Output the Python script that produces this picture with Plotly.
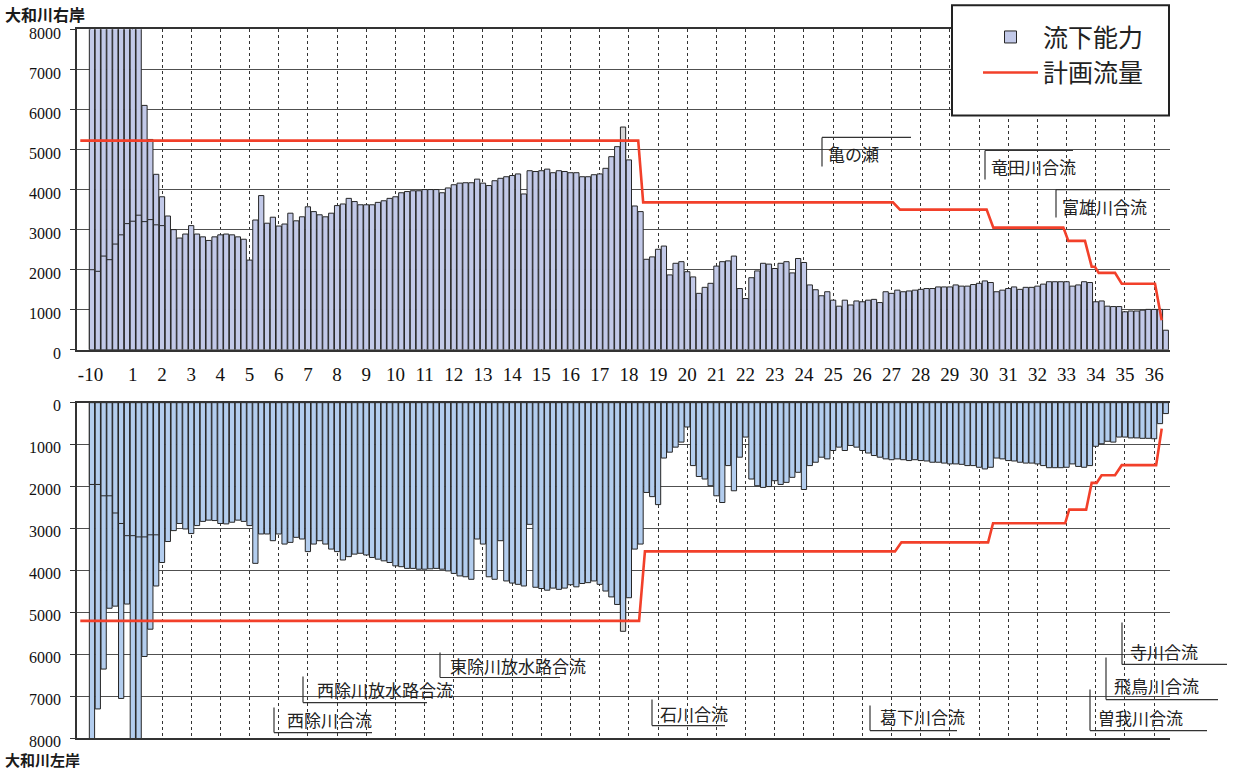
import plotly.graph_objects as go

W, H = 1233, 778

# ---------------- data ----------------
# survey stations (km from river mouth), every 0.2 km
stations_km = [round(-0.4 + 0.2 * i, 1) for i in range(185)]

# x tick labels as printed
tick_text = ["-10"] + [str(n) for n in range(1, 37)]
tick_km = [-0.45] + list(range(1, 37))

# 流下能力 (m3/s) right bank ; 9000 = off-scale (> 8000)
right_cap = [
    9000, 9000, 9000, 9000, 9000, 9000, 9000, 9000, 9000,
    6100, 5250, 4380, 3820, 3340, 3000, 2790, 2890, 3100, 2890,
    2820, 2730, 2820, 2870, 2890, 2870, 2820, 2760, 2240, 3240,
    3850, 3160, 3310, 3090, 3140, 3410, 3220, 3320, 3570, 3450,
    3370, 3320, 3410, 3600, 3640, 3780, 3700, 3620, 3620, 3620,
    3680, 3720, 3780, 3820, 3920, 3950, 3970, 3970, 4000, 4000,
    4000, 3920, 4040, 4120, 4160, 4170, 4170, 4260, 4160, 4100,
    4220, 4280, 4320, 4350, 4390, 3890, 4470, 4450, 4470, 4510,
    4420, 4470, 4450, 4420, 4420, 4320, 4320, 4370, 4390, 4530,
    4820, 5070, 5560, 4740, 3590, 3450, 2260, 2320, 2510, 2590,
    1870, 2160, 2200, 1950, 1820, 1410, 1560, 1660, 2090, 2200,
    2220, 2340, 1530, 1280, 1800, 1970, 2160, 2140, 2030, 2160,
    2200, 1920, 2280, 2180, 1620, 1500, 1350, 1450, 1240, 1090,
    1240, 1120, 1220, 1200, 1240, 1260, 1180, 1450, 1410, 1490,
    1450, 1470, 1490, 1510, 1530, 1530, 1570, 1570, 1570, 1620,
    1590, 1590, 1630, 1660, 1720, 1680, 1450, 1490, 1530, 1570,
    1510, 1560, 1560, 1590, 1640, 1700, 1700, 1700, 1700, 1590,
    1620, 1700, 1680, 1200, 1220, 1090, 1080, 1080, 950, 970,
    970, 990, 1010, 1010, 1010, 490,
]

# 流下能力 (m3/s) left bank ; 9000 = off-scale (> 8000)
left_cap = [
    9000, 7300, 6350, 4900, 4850, 7050, 4800, 9000, 9000, 6050,
    5400, 4370, 3810, 3310, 3050, 2880, 3010, 3120, 2930, 2830,
    2800, 2810, 2880, 2890, 2850, 2800, 2830, 2930, 3830, 3130,
    3130, 3290, 3130, 3370, 3330, 3210, 3250, 3550, 3370, 3290,
    3370, 3490, 3550, 3750, 3670, 3610, 3590, 3630, 3690, 3730,
    3770, 3810, 3890, 3910, 3950, 3950, 3970, 3970, 3960, 3950,
    3970, 4010, 4070, 4130, 4150, 4210, 3250, 3370, 4150, 4210,
    3290, 4250, 4300, 4330, 4370, 2900, 4400, 4430, 4470, 4420,
    4450, 4420, 4340, 4390, 4310, 4290, 4250, 4330, 4490, 4630,
    4810, 5450, 4650, 3490, 3370, 2140, 2240, 2430, 1320, 1180,
    1060, 940, 580, 1500, 1760, 1820, 1980, 2220, 2380, 1500,
    2100, 1300, 820, 1820, 1980, 2020, 2000, 1860, 1950, 1900,
    1780, 1660, 2070, 1500, 1420, 1300, 1340, 1140, 1060, 1140,
    1020, 1060, 1140, 1200, 1260, 1300, 1340, 1360, 1340, 1360,
    1380, 1360, 1380, 1390, 1420, 1420, 1440, 1460, 1460, 1470,
    1500, 1500, 1540, 1580, 1540, 1320, 1340, 1380, 1390, 1420,
    1440, 1440, 1460, 1500, 1550, 1550, 1550, 1540, 1460, 1520,
    1540, 1500, 1040, 980, 920, 940, 820, 820, 840, 840,
    850, 850, 860, 500, 260,
]

# second (lower) capacity values drawn inside the off-scale bars near the mouth
right_inner_head = [2000, 1960, 2340, 2250, 2640, 2870, 3150, 3210, 3360, 3200, 3250, 3120, 3100]
left_inner_head = [1950, 1950, 2220, 2220, 2630, 2880, 3170, 3170, 3200, 3200, 3150, 3150]
peak_km = 17.8
right_inner_peak = 5200
left_inner_peak = 5200

# 計画流量 (planned discharge) step lines
plan_right_km = [-0.8, 18.32, 18.49, 27.05, 27.29, 30.26, 30.49, 32.89, 33.06,
                 33.63, 33.86, 33.97, 34.1, 34.66, 34.89, 36.03, 36.26]
plan_right_q = [5220, 5220, 3680, 3680, 3500, 3500, 3050, 3050, 2720,
                2720, 2075, 2075, 1920, 1920, 1650, 1650, 740]
plan_left_km = [-0.8, 18.35, 18.55, 27.12, 27.34, 30.31, 30.48, 32.95, 33.09,
                33.67, 33.86, 34.03, 34.2, 34.66, 34.89, 36.07, 36.26]
plan_left_q = [5200, 5200, 3545, 3545, 3330, 3330, 2875, 2875, 2550,
               2550, 1912, 1912, 1730, 1730, 1490, 1490, 620]

y_ticks = list(range(0, 8001, 1000))

top_labels = ["亀の瀬", "竜田川合流", "富雄川合流"]
bottom_labels = ["西除川合流", "西除川放水路合流", "東除川放水路合流", "石川合流",
                 "葛下川合流", "曽我川合流", "飛鳥川合流", "寺川合流"]

# ---------------- layout helpers ----------------
# the page is photographed slightly compressed vertically; compensate
V_OFF, V_SCALE = 8.8, 0.975


def px(x):
    return x / W


def py(y):
    yd = (y - V_OFF) / V_SCALE
    return min(1.0, max(0.0, 1 - yd / H))


# (vertical line x, y_top, y_bottom, horizontal end x, text x, text y)
top_label_pos = [
    (822, 141, 170, 911, 826, 157),
    (985, 154, 183, 1073, 989, 170),
    (1056, 193, 221, 1140, 1060, 210),
]
bottom_label_pos = [
    (274, 710, 735, 372, 285, 722),
    (303, 679, 705, 427, 315, 692),
    (440, 655, 680, 560, 448, 668),
    (652, 702, 728, 725, 658, 716),
    (870, 708, 733, 957, 878, 719),
    (1090, 692, 733, 1207, 1096, 720),
    (1106, 660, 702, 1218, 1112, 688),
    (1122, 625, 667, 1227, 1128, 654),
]

BLUE_TOP = "#c2c9e8"
BLUE_BOT = "#b3cdee"
PEAK_GRAY = "#d6d6d6"
OUTLINE = "#262626"
RED = "#f2402a"
GRID = "#505050"

n = len(stations_km)
right_inner = [None] * n
left_inner = [None] * n
for i, v in enumerate(right_inner_head):
    right_inner[i] = v
for i, v in enumerate(left_inner_head):
    left_inner[i] = v
ipk = stations_km.index(peak_km)
right_inner[ipk] = right_inner_peak
left_inner[ipk] = left_inner_peak

top_colors = [PEAK_GRAY if k == peak_km else BLUE_TOP for k in stations_km]
bot_colors = [PEAK_GRAY if k == peak_km else BLUE_BOT for k in stations_km]

BW = 0.18

fig = go.Figure()
fig.add_trace(go.Bar(x=stations_km, y=right_cap, width=BW, name="流下能力",
                     marker=dict(color=top_colors, line=dict(color=OUTLINE, width=1)),
                     xaxis="x", yaxis="y", legendrank=1))
fig.add_trace(go.Bar(x=stations_km, y=right_inner, width=BW, showlegend=False,
                     marker=dict(color=BLUE_TOP, line=dict(color=OUTLINE, width=1)),
                     xaxis="x", yaxis="y"))
fig.add_trace(go.Scatter(x=plan_right_km, y=plan_right_q, mode="lines", name="計画流量",
                         line=dict(color=RED, width=2.6), xaxis="x", yaxis="y", legendrank=2))

fig.add_trace(go.Bar(x=stations_km, y=left_cap, width=BW, showlegend=False,
                     marker=dict(color=bot_colors, line=dict(color=OUTLINE, width=1)),
                     xaxis="x2", yaxis="y2"))
fig.add_trace(go.Bar(x=stations_km, y=left_inner, width=BW, showlegend=False,
                     marker=dict(color=BLUE_BOT, line=dict(color=OUTLINE, width=1)),
                     xaxis="x2", yaxis="y2"))
fig.add_trace(go.Scatter(x=plan_left_km, y=plan_left_q, mode="lines", showlegend=False,
                         line=dict(color=RED, width=2.6), xaxis="x2", yaxis="y2"))

x_range = [-0.913, 36.544]
x_dom = [px(77), px(1170)]
tick_font = dict(family="Liberation Serif", size=19, color="#111111")
ytick_font = dict(family="Liberation Serif", size=16, color="#111111")

common_x = dict(range=x_range, domain=x_dom, tickmode="array", tickvals=tick_km,
                showgrid=True, gridcolor="#333333", griddash="dot", gridwidth=1.2,
                showline=True, mirror=True, linecolor="#333333", linewidth=1.5,
                zeroline=False, ticks="")
common_y = dict(tickmode="array", tickvals=y_ticks, showgrid=True, gridcolor=GRID,
                gridwidth=1, showline=True, linecolor="#333333", linewidth=1.5,
                zeroline=False, ticks="outside", ticklen=5, tickcolor="#333333",
                tickfont=ytick_font, ticklabelstandoff=6)

fig.update_layout(
    width=W, height=H, autosize=False,
    margin=dict(l=0, r=0, t=0, b=0),
    paper_bgcolor="white", plot_bgcolor="white",
    barmode="overlay",
    xaxis=dict(**common_x, anchor="y", ticktext=tick_text, tickfont=tick_font,
               ticklabelstandoff=7),
    yaxis=dict(**common_y, domain=[py(353), py(33)], range=[0, 8000], anchor="x",
               ticklabelshift=4),
    xaxis2=dict(**common_x, anchor="y2", showticklabels=False),
    yaxis2=dict(**common_y, domain=[py(740.7), py(405.7)], range=[8000, 0], anchor="x2",
                ticklabelshift=-3),
    showlegend=True,
    legend=dict(x=px(978), y=py(18), xanchor="left", yanchor="top",
                bgcolor="rgba(0,0,0,0)", borderwidth=0,
                font=dict(family="Noto Sans CJK JP", size=25, color="#222222"),
                itemwidth=55, tracegroupgap=4),
)

shapes = [
    dict(type="rect", xref="paper", yref="paper", x0=px(952), x1=px(1169),
         y0=py(119), y1=py(9), line=dict(color="#222222", width=2),
         fillcolor="white", layer="above"),
]
annotations = [
    dict(text="大和川右岸", xref="paper", yref="paper", x=px(4), y=1 + 4.5 / H,
         xanchor="left", yanchor="top", showarrow=False, borderpad=0,
         font=dict(family="Noto Sans CJK JP", size=16, color="#1a1a1a", weight="bold")),
    dict(text="大和川左岸", xref="paper", yref="paper", x=px(4), y=-6 / H,
         xanchor="left", yanchor="bottom", showarrow=False, borderpad=0,
         font=dict(family="Noto Sans CJK JP", size=15, color="#1a1a1a", weight="bold")),
]

label_font = dict(family="Noto Sans CJK JP", size=17, color="#222222")
for txt, (vx, y1, y2, hx, tx, ty) in zip(top_labels, top_label_pos):
    shapes.append(dict(type="line", xref="paper", yref="paper", x0=px(vx), x1=px(vx),
                       y0=py(y1), y1=py(y2), line=dict(color="#333333", width=1.2)))
    shapes.append(dict(type="line", xref="paper", yref="paper", x0=px(vx), x1=px(hx),
                       y0=py(y1), y1=py(y1), line=dict(color="#333333", width=1.2)))
    annotations.append(dict(text=txt, xref="paper", yref="paper", x=px(tx), y=py(ty),
                            xanchor="left", yanchor="middle", showarrow=False,
                            font=label_font))
for txt, (vx, y1, y2, hx, tx, ty) in zip(bottom_labels, bottom_label_pos):
    shapes.append(dict(type="line", xref="paper", yref="paper", x0=px(vx), x1=px(vx),
                       y0=py(y1), y1=py(y2), line=dict(color="#333333", width=1.2)))
    shapes.append(dict(type="line", xref="paper", yref="paper", x0=px(vx), x1=px(hx),
                       y0=py(y2), y1=py(y2), line=dict(color="#333333", width=1.2)))
    annotations.append(dict(text=txt, xref="paper", yref="paper", x=px(tx), y=py(ty),
                            xanchor="left", yanchor="middle", showarrow=False,
                            font=label_font))

fig.update_layout(shapes=shapes, annotations=annotations)
fig.write_html("out.html")
